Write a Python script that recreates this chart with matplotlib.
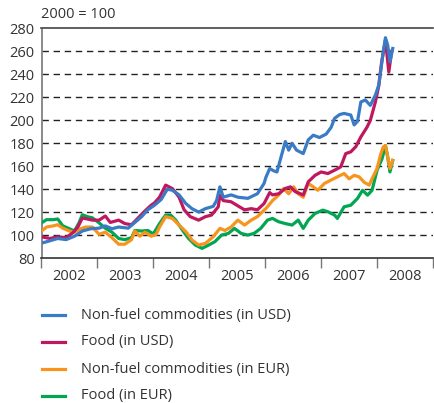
import matplotlib
matplotlib.use('Agg')
import matplotlib.pyplot as plt
from matplotlib.lines import Line2D

plt.rcParams['font.family'] = ['Open Sans', 'DejaVu Sans']

# index values, 2000 = 100
nf_usd_t = [2002.00, 2002.08, 2002.15, 2002.29, 2002.44, 2002.59, 2002.73, 2002.88, 2003.03, 2003.14,
            2003.26, 2003.38, 2003.55, 2003.67, 2003.79, 2003.90, 2004.02, 2004.14, 2004.25, 2004.34,
            2004.46, 2004.58, 2004.69, 2004.81, 2004.93, 2005.07, 2005.13, 2005.19, 2005.25, 2005.39,
            2005.51, 2005.69, 2005.86, 2005.98, 2006.01, 2006.08, 2006.15, 2006.21, 2006.30, 2006.36,
            2006.42, 2006.48, 2006.56, 2006.68, 2006.77, 2006.86, 2006.97, 2007.09, 2007.18, 2007.24,
            2007.33, 2007.41, 2007.53, 2007.59, 2007.65, 2007.71, 2007.79, 2007.88, 2007.97, 2008.03,
            2008.07, 2008.11, 2008.15, 2008.19, 2008.23, 2008.28]
nf_usd = [93, 94, 95, 97, 96, 99, 103.5, 105.5, 106, 108,
          105.5, 107, 106, 111, 116, 122, 126, 131, 140, 139,
          135, 127.5, 123, 120, 123, 125, 130, 142, 133, 135,
          133, 132, 136, 145, 150, 158, 156, 155, 171, 181.5,
          174, 180, 174, 171, 183, 187, 185, 188, 194, 201.7,
          205, 206, 204.6, 196, 199, 216, 217.7, 213, 222, 230.7,
          245, 259.7, 272, 265.5, 251, 262.6]

food_usd_t = [2002.00, 2002.15, 2002.29, 2002.44, 2002.56, 2002.65, 2002.73, 2002.82, 2002.91, 2003.03,
              2003.14, 2003.23, 2003.38, 2003.49, 2003.61, 2003.73, 2003.85, 2003.96, 2004.02, 2004.11,
              2004.22, 2004.34, 2004.46, 2004.55, 2004.66, 2004.81, 2004.93, 2005.04, 2005.16, 2005.19,
              2005.25, 2005.39, 2005.54, 2005.63, 2005.75, 2005.86, 2005.98, 2006.08, 2006.13, 2006.24,
              2006.36, 2006.45, 2006.54, 2006.68, 2006.77, 2006.89, 2007.00, 2007.12, 2007.24, 2007.35,
              2007.44, 2007.53, 2007.62, 2007.71, 2007.82, 2007.88, 2007.97, 2008.03, 2008.08, 2008.15,
              2008.21, 2008.26]
food_usd = [98.5, 97, 98.5, 97.7, 102, 107, 114.8, 114, 113, 113,
            116.6, 111, 113, 110, 109, 115, 121, 126, 128, 133,
            143.5, 140.5, 133, 122, 116, 113, 116, 117.4, 124.6, 134.7,
            130, 129, 124.6, 122, 123, 122, 127.5, 137, 135, 136,
            140.6, 142, 137.7, 135, 146.4, 152, 155, 153.6, 156.5, 159.4,
            171, 172.5, 177, 185.5, 194, 200, 216, 230, 250, 270,
            242, 260]

nf_eur_t = [2002.00, 2002.09, 2002.21, 2002.29, 2002.38, 2002.50, 2002.59, 2002.70, 2002.79, 2002.91,
            2003.03, 2003.14, 2003.26, 2003.38, 2003.49, 2003.61, 2003.67, 2003.76, 2003.85, 2003.96,
            2004.05, 2004.11, 2004.22, 2004.34, 2004.46, 2004.58, 2004.69, 2004.81, 2004.93, 2005.07,
            2005.19, 2005.28, 2005.39, 2005.51, 2005.63, 2005.75, 2005.86, 2005.98, 2006.01, 2006.08,
            2006.13, 2006.24, 2006.33, 2006.42, 2006.51, 2006.59, 2006.68, 2006.77, 2006.86, 2006.94,
            2007.06, 2007.18, 2007.29, 2007.41, 2007.50, 2007.59, 2007.68, 2007.77, 2007.86, 2007.91,
            2008.00, 2008.06, 2008.11, 2008.15, 2008.19, 2008.23, 2008.28]
nf_eur = [103.5, 107, 108, 109, 106, 103.5, 102.5, 105.5, 107, 107,
          100.6, 102.5, 97.7, 92, 92, 96, 103.5, 99, 102.5, 99,
          100.6, 107, 116, 114.5, 108.7, 103, 95.7, 91.3, 92.7, 98.5,
          105.8, 104, 107, 113, 108.7, 113, 116, 121.7, 123, 127,
          130, 134.8, 140.6, 136, 142, 136, 133, 145, 142, 139,
          145, 148, 150.7, 153.6, 149, 152, 150.7, 146, 143.5, 149,
          158, 169.6, 176.8, 178, 168, 158, 165]

food_eur_t = [2002.00, 2002.09, 2002.21, 2002.29, 2002.38, 2002.50, 2002.59, 2002.67, 2002.73, 2002.82,
              2002.91, 2003.03, 2003.14, 2003.26, 2003.38, 2003.49, 2003.61, 2003.67, 2003.79, 2003.90,
              2004.00, 2004.11, 2004.22, 2004.31, 2004.40, 2004.52, 2004.63, 2004.75, 2004.87, 2004.99,
              2005.10, 2005.22, 2005.34, 2005.45, 2005.57, 2005.69, 2005.80, 2005.92, 2006.04, 2006.13,
              2006.24, 2006.36, 2006.48, 2006.59, 2006.68, 2006.77, 2006.89, 2007.03, 2007.12, 2007.24,
              2007.29, 2007.41, 2007.53, 2007.65, 2007.74, 2007.83, 2007.91, 2008.00, 2008.09, 2008.15,
              2008.19, 2008.23, 2008.28]
food_eur = [110.6, 113.4, 113.4, 114, 108, 105.5, 103.5, 110.6, 117.7, 116,
            115, 110.6, 106, 102.5, 97, 96, 97.7, 104, 103.5, 104,
            101, 110, 117.4, 117.4, 113, 104.3, 97, 91.3, 88.4, 91.3,
            94.2, 100, 101.4, 105.8, 101.4, 100, 101.4, 105.8, 113, 114.5,
            111.6, 110, 108.7, 113, 105.8, 113, 118.8, 121.7, 120.3, 117.4,
            114.5, 124.6, 126, 131.9, 139, 134.8, 139, 156.5, 166.7, 178,
            168, 155, 165]

years = [2002, 2003, 2004, 2005, 2006, 2007, 2008]
labels = ['Non-fuel commodities (in USD)', 'Food (in USD)',
          'Non-fuel commodities (in EUR)', 'Food (in EUR)']
colors = ['#3a7bc6', '#c0185e', '#f7941d', '#00a651']

W, H = 435, 403
fig = plt.figure(figsize=(W / 100, H / 100), dpi=100)
ax = fig.add_axes([41.5 / W, 1 - 258 / H, 391.5 / W, 229.5 / H])

series = [(nf_usd_t, nf_usd), (food_usd_t, food_usd), (nf_eur_t, nf_eur), (food_eur_t, food_eur)]
# green first so blue ends up on top
for i in [3, 2, 1, 0]:
    t, v = series[i]
    ax.plot(t, v, color=colors[i], lw=2.3, solid_joinstyle='round', zorder=3 + (3 - i))

ax.set_xlim(2002, 2008.87)
ax.set_ylim(80, 280)
ax.set_yticks(range(80, 281, 20))
for y in range(100, 261, 20):
    ax.axhline(y, color='#222222', lw=1.0, dashes=(4.6, 3.4), zorder=1)

# year boundaries as ticks, year names in between
ax.set_xticks(years + [2009])
ax.set_xticklabels([])
ax.set_xticks([y + 0.5 for y in years], minor=True)
ax.set_xticklabels([str(y) for y in years], minor=True)
ax.tick_params(axis='x', which='major', length=7, width=1.0, color='#777777', direction='out')
ax.tick_params(axis='x', which='minor', length=0, pad=8, labelsize=10.5, labelcolor='#333333')
ax.tick_params(axis='y', length=0, pad=5, labelsize=10.5, labelcolor='#333333')

for s in ['left', 'bottom', 'top']:
    ax.spines[s].set_linewidth(1.2)
ax.spines['left'].set_color('#777777')
ax.spines['bottom'].set_color('#333333')
ax.spines['top'].set_color('#444444')
ax.spines['right'].set_visible(False)

fig.text(41 / W, 1 - 15 / H, '2000 = 100', fontsize=10.5, color='#333333', va='center', ha='left')

# legend below the axes
for k, lab in enumerate(labels):
    yy = 1 - (315 + 27 * k) / H
    fig.add_artist(Line2D([42 / W, 65 / W], [yy, yy], color=colors[k], lw=2.3))
    fig.text(81 / W, yy, lab, fontsize=10.5, color='#333333', va='center', ha='left')

fig.savefig('out.png', dpi=100)
